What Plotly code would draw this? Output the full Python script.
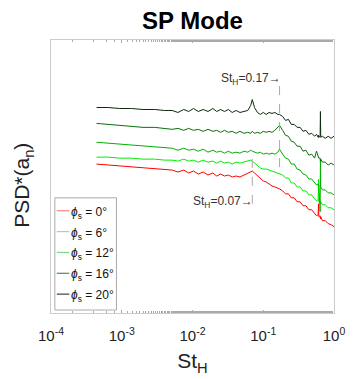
import plotly.graph_objects as go
import numpy as np

# Strouhal number (St_H) sample positions
st_h = [4.40e-4, 6.43e-4, 9.39e-4, 1.37e-3, 2.00e-3, 2.92e-3, 4.01e-3, 5.16e-3, 6.23e-3, 7.53e-3,
        8.82e-3, 1.032e-2, 1.208e-2, 1.415e-2, 1.656e-2, 1.940e-2, 2.200e-2, 2.495e-2, 2.831e-2, 3.211e-2,
        3.643e-2, 4.133e-2, 4.690e-2, 5.32e-2, 6.04e-2, 6.64e-2, 7.0e-2, 7.53e-2, 8.28e-2, 9.10e-2,
        0.100, 0.110, 0.121, 0.133, 0.146, 0.1605, 0.17, 0.188, 0.2065, 0.227,
        0.249, 0.274, 0.301, 0.332, 0.365, 0.401, 0.441, 0.484, 0.532, 0.566,
        0.598, 0.604, 0.610, 0.637, 0.643, 0.649, 0.685, 0.753, 0.828, 0.910, 1.0]

# Offset PSD levels (arbitrary units, curves stacked)
psd_0 = [150, 149, 148, 147, 146, 145, 144, 144, 142, 144, 141, 143, 140, 142, 139, 141, 138, 140, 138, 139,
         137, 138, 137, 139, 141, 143, 143, 141, 138, 135, 133, 132, 130, 128, 127, 126, 125,
         123, 120, 120, 116, 116, 112, 112, 108, 108, 104, 104, 100, 98,
         99, 110, 97, 98, 95, 97, 93, 93, 90, 89, 87]
psd_6 = [157, 157, 156, 156, 155, 155, 154, 154, 153, 155, 153, 154, 152, 154, 152, 153, 151, 153, 151, 152,
         150, 152, 151, 152, 153, 154, 153, 151, 148, 146, 145, 145, 144, 143, 142, 141, 140,
         139, 136, 136, 131, 131, 127, 127, 123, 123, 119, 119, 115, 113,
         114, 135, 112, 113, 110, 112, 109, 109, 106, 106, 104]
psd_12 = [172, 171, 170, 169, 168, 167, 166, 166, 164, 166, 164, 165, 163, 165, 162, 164, 162, 163, 161, 163,
          161, 162, 161, 163, 162, 164, 163, 162, 161, 162, 160, 161, 160, 161, 160, 162, 165,
          160, 156, 155, 150, 150, 145, 144, 140, 139, 135, 135, 131, 129,
          130, 128, 129, 102, 155, 127, 124, 124, 121, 121, 119]
psd_16 = [191, 190, 189, 188, 187, 187, 186, 185, 186, 184, 186, 184, 185, 183, 185, 183, 184, 182, 184, 182,
          183, 181, 183, 181, 182, 181, 183, 181, 182, 181, 183, 182, 183, 182, 184, 187, 189,
          184, 179, 178, 173, 172, 168, 168, 163, 164, 159, 160, 156, 163,
          157, 158, 156, 156, 153, 155, 152, 152, 149, 151, 149]
psd_20 = [207, 207, 206, 206, 205, 205, 204, 204, 202, 205, 203, 206, 203, 205, 203, 206, 203, 205, 203, 205,
          202, 204, 202, 203, 204, 209, 215, 207, 202, 200, 202, 200, 202, 201, 202, 200, 200,
          198, 194, 195, 190, 190, 187, 187, 183, 184, 180, 181, 178, 180,
          177, 179, 177, 178, 203, 177, 178, 176, 178, 176, 178]

series_angles = [0, 6, 12, 16, 20]
series_values = [psd_0, psd_6, psd_12, psd_16, psd_20]
series_colors = ["#ff0000", "#00ee00", "#00b000", "#0a700a", "#0c2a0c"]
legend_colors = ["#ff8080", "#80f080", "#80d880", "#4a904a", "#3a4a3a"]

# Annotated Strouhal numbers and dashed marker extents
marker_st = [0.17, 0.07]
marker_lo = [147, 110]
marker_hi = [234, 160]
marker_label_y = [236, 112]

# x tick labels
x_tickvals = [1e-4, 1e-3, 1e-2, 1e-1, 1e0]
x_ticktext = ["10<sup>-4</sup>", "10<sup>-3</sup>", "10<sup>-2</sup>", "10<sup>-1</sup>", "10<sup>0</sup>"]

fig = go.Figure()
for ang, vals, col in zip(series_angles, series_values, series_colors):
    fig.add_trace(go.Scatter(x=st_h, y=vals, mode="lines", name="phi_s = %d deg" % ang,
                             showlegend=False, line=dict(color=col, width=1)))

for st, lo, hi, ly in zip(marker_st, marker_lo, marker_hi, marker_label_y):
    fig.add_trace(go.Scatter(x=[st, st], y=[lo, hi], mode="lines", showlegend=False,
                             line=dict(color="#aaaaaa", width=1, dash="dash")))
    fig.add_annotation(x=np.log10(st), y=ly, xref="x", yref="y",
                       text="St<sub>H</sub>=%.2f\u2192" % st, showarrow=False,
                       xanchor="right", yanchor="middle", xshift=3,
                       font=dict(size=12, color="#333333", family="Liberation Sans"))

# Legend box (drawn in the lower-left corner of the axes, like the original)
fig.add_shape(type="rect", xref="paper", yref="paper", x0=4 / 294, x1=68 / 294,
              y0=3 / 275, y1=116 / 275, line=dict(color="#aaaaaa", width=1),
              fillcolor="white", layer="above")
row_pix = [212, 233, 254, 275, 296]
for ang, col, yp in zip(series_angles, legend_colors, row_pix):
    yy = (315 - yp) / 275
    fig.add_shape(type="line", xref="paper", yref="paper", x0=6 / 294, x1=19 / 294,
                  y0=yy, y1=yy, line=dict(color=col, width=1.2), layer="above")
    txt = '<i>\u03d5</i><sub>s</sub> = %d\u00b0' % ang
    fig.add_annotation(xref="paper", yref="paper", x=19 / 294, y=yy, yshift=-2,
                       xanchor="left", yanchor="middle", showarrow=False, text=txt,
                       font=dict(size=12, color="#111111", family="Liberation Sans"))

fig.update_layout(
    width=355, height=379,
    margin=dict(l=51, r=10, t=40, b=64),
    paper_bgcolor="white", plot_bgcolor="white",
    font=dict(family="Liberation Sans", color="#222222"),
    title=dict(text="<b>SP Mode</b>", x=0.5, xanchor="center", xref="paper",
               y=1 - 21 / 379, yanchor="middle", font=dict(size=24, color="#000000")),
    showlegend=False,
)
fig.update_xaxes(type="log", range=[-4, 0], showline=True, linecolor="#cccccc", linewidth=1,
                 mirror="ticks", ticks="inside", ticklen=3, tickcolor="#aaaaaa",
                 showgrid=False, zeroline=False, tickvals=x_tickvals, ticktext=x_ticktext,
                 tickfont=dict(size=15, color="#222222"), ticklabelstandoff=9,
                 ticklabeloverflow="allow",
                 minor=dict(ticks="inside", ticklen=2, tickcolor="#aaaaaa", showgrid=False),
                 title=dict(text="St<sub>H</sub>", font=dict(size=21, color="#222222"), standoff=10))
fig.update_yaxes(range=[0, 275], showline=True, linecolor="#cccccc", linewidth=1, mirror=True,
                 ticks="", showticklabels=False, showgrid=False, zeroline=False,
                 title=dict(text="PSD*(a<sub>n</sub>)&nbsp;&nbsp;&nbsp;",
                            font=dict(size=21, color="#222222"), standoff=14))

fig.write_html("out.html")
